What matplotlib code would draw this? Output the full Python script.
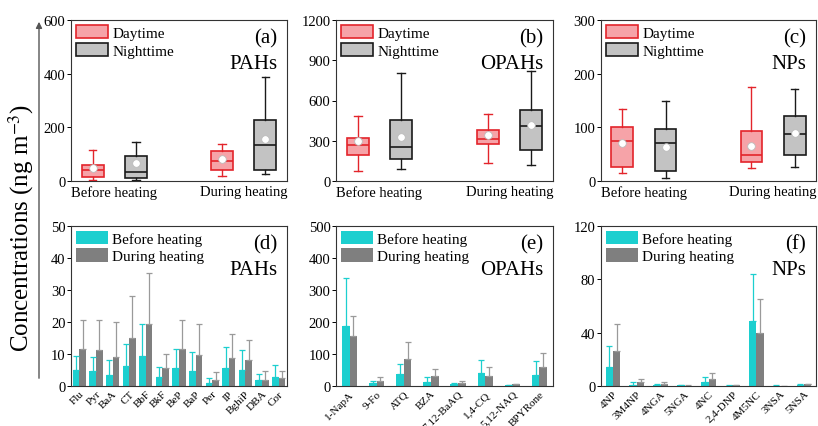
import numpy as np
import matplotlib
matplotlib.use('Agg')
import matplotlib.pyplot as plt
from matplotlib.patches import Patch, FancyArrowPatch

plt.rcParams['font.family'] = ['Liberation Serif', 'DejaVu Serif']
plt.rcParams['mathtext.fontset'] = 'stix'

groups = ['Before heating', 'During heating']

# box stats per group: whislo, q1, med, q3, whishi, mean
pahs_day = [(3, 16, 42, 60, 117, 47), (17, 42, 73, 111, 139, 81)]
pahs_night = [(5, 12, 32, 94, 147, 68), (25, 42, 134, 228, 389, 157)]
opahs_day = [(72, 196, 266, 318, 484, 298), (132, 278, 316, 380, 502, 343)]
opahs_night = [(92, 164, 256, 455, 805, 328), (117, 234, 412, 527, 817, 420)]
nps_day = [(14, 27, 74, 101, 135, 70), (24, 35, 49, 94, 175, 65)]
nps_night = [(5, 19, 71, 97, 150, 63), (26, 48, 88, 122, 171, 89)]

# species means and upper error (sd)
pah_species = ['Flu', 'Pyr', 'BaA', 'CT', 'BbF', 'BkF', 'BeP', 'BaP', 'Per', 'IP', 'BghiP', 'DBA', 'Cor']
pah_before = [5.1, 4.7, 3.5, 6.4, 9.3, 2.9, 5.5, 4.7, 1.0, 5.6, 5.1, 1.8, 2.9]
pah_before_sd = [4.2, 4.3, 4.5, 6.8, 10.0, 2.9, 6.1, 5.9, 1.4, 6.7, 6.1, 2.1, 3.6]
pah_during = [11.7, 11.3, 9.1, 15.0, 19.4, 5.6, 11.5, 9.6, 2.0, 8.8, 8.0, 2.0, 2.4]
pah_during_sd = [8.9, 9.3, 10.8, 13.0, 15.9, 4.5, 9.0, 9.7, 2.5, 7.5, 6.5, 2.7, 2.3]

opah_species = ['1-NapA', '9-Fo', 'ATQ', 'BZA', '7,12-BaAQ', '1,4-CQ', '5,12-NAQ', 'BPYRone']
opah_before = [187, 8, 38, 13, 5, 41, 3, 35]
opah_before_sd = [149, 8, 30, 15, 4, 39, 1, 42]
opah_during = [157, 17, 84, 30, 10, 32, 5, 58]
opah_during_sd = [61, 12, 53, 23, 6, 27, 1, 45]

np_species = ['4NP', '3M4NP', '4NGA', '5NGA', '4NC', '2,4-DNP', '4M5NC', '3NSA', '5NSA']
np_before = [13.9, 1.0, 1.0, 0.5, 2.7, 0.3, 48.5, 0.3, 1.0]
np_before_sd = [16.2, 1.7, 0.5, 0.1, 3.8, 0.1, 35.4, 0.1, 0.2]
np_during = [26.1, 2.7, 1.7, 0.3, 5.5, 0.7, 40.1, 0.2, 1.2]
np_during_sd = [20.2, 2.5, 1.3, 0.1, 4.5, 0.3, 25.1, 0.1, 0.3]

RED_FACE = '#f6a3a8'
RED_EDGE = '#e3242b'
GREY_FACE = '#c3c3c3'
GREY_EDGE = '#1a1a1a'
CYAN = '#1ccfcf'
DGREY = '#7f7f7f'

W, H = 818, 427
fig = plt.figure(figsize=(W / 100, H / 100), dpi=100)

def px_axes(left, top, right, bottom):
    return fig.add_axes([left / W, 1 - bottom / H, (right - left) / W, (bottom - top) / H])

cols = [(71, 287), (336, 553), (601, 816)]

def style(ax):
    for s in ax.spines.values():
        s.set_color('#333333')
        s.set_linewidth(0.8)
    ax.tick_params(axis='y', direction='out', length=3, width=0.7, labelsize=10.5, pad=1)

def make_stats(rows):
    out = []
    for r in rows:
        out.append({'whislo': r[0], 'q1': r[1], 'med': r[2], 'q3': r[3],
                    'whishi': r[4], 'mean': r[5], 'fliers': []})
    return out

def add_tags(ax, tag, name):
    ax.text(0.955, 0.95, tag, transform=ax.transAxes, ha='right', va='top', fontsize=15)
    ax.text(0.955, 0.70, name, transform=ax.transAxes, ha='right', va='baseline', fontsize=15)

def box_panel(ax, day, night, ymax, step, tag, name):
    off = 0.167
    pos = np.arange(1, len(groups) + 1)
    for data, shift, fc, ec in [(day, -off, RED_FACE, RED_EDGE), (night, off, GREY_FACE, GREY_EDGE)]:
        ax.bxp(make_stats(data), positions=pos + shift, widths=0.17, patch_artist=True,
               showmeans=True, showfliers=False, capwidths=0.06,
               boxprops=dict(facecolor=fc, edgecolor=ec, linewidth=1.2),
               whiskerprops=dict(color=ec, linewidth=1.0),
               capprops=dict(color=ec, linewidth=1.0),
               medianprops=dict(color=ec, linewidth=1.2),
               meanprops=dict(marker='o', markerfacecolor='white', markeredgecolor='#bbbbbb',
                              markersize=5.5, markeredgewidth=0.6))
    ax.set_xlim(0.667, 2.333)
    ax.set_ylim(0, ymax)
    ax.set_yticks(np.arange(0, ymax + 1, step))
    ax.set_xticks(pos)
    ax.set_xticklabels(groups, fontsize=10.5)
    ax.tick_params(axis='x', length=0, pad=3)
    style(ax)
    handles = [Patch(facecolor=RED_FACE, edgecolor=RED_EDGE, linewidth=1.2, label='Daytime'),
               Patch(facecolor=GREY_FACE, edgecolor=GREY_EDGE, linewidth=1.2, label='Nighttime')]
    ax.legend(handles=handles, loc='upper left', frameon=False, fontsize=11,
              handlelength=2.1, handleheight=1.0, labelspacing=0.2,
              borderaxespad=0.1, borderpad=0.2, handletextpad=0.3)
    add_tags(ax, tag, name)

def bar_panel(ax, species, before, bsd, during, dsd, ymax, step, width, tag, name):
    x = np.arange(len(species))
    zeros = np.zeros(len(species))
    ax.bar(x - width / 2, before, width, color=CYAN, label='Before heating',
           yerr=[zeros, bsd], error_kw=dict(ecolor=CYAN, elinewidth=0.9, capsize=2, capthick=0.9))
    ax.bar(x + width / 2, during, width, color=DGREY, label='During heating',
           yerr=[zeros, dsd], error_kw=dict(ecolor='#9a9a9a', elinewidth=0.9, capsize=2, capthick=0.9))
    ax.set_xlim(-0.5, len(species) - 0.5)
    ax.set_ylim(0, ymax)
    ax.set_yticks(np.arange(0, ymax + 1, step))
    ax.set_xticks(x)
    ax.set_xticklabels(species, rotation=45, ha='right', rotation_mode='anchor', fontsize=8)
    ax.tick_params(axis='x', length=0, pad=2)
    style(ax)
    ax.legend(loc='upper left', frameon=False, fontsize=11,
              handlelength=2.1, handleheight=1.0, labelspacing=0.15,
              borderaxespad=0.1, borderpad=0.2, handletextpad=0.3)
    add_tags(ax, tag, name)

ax_a = px_axes(cols[0][0], 21, cols[0][1], 182)
box_panel(ax_a, pahs_day, pahs_night, 600, 200, '(a)', 'PAHs')
ax_b = px_axes(cols[1][0], 21, cols[1][1], 182)
box_panel(ax_b, opahs_day, opahs_night, 1200, 300, '(b)', 'OPAHs')
ax_c = px_axes(cols[2][0], 21, cols[2][1], 182)
box_panel(ax_c, nps_day, nps_night, 300, 100, '(c)', 'NPs')

ax_d = px_axes(cols[0][0], 227, cols[0][1], 387)
bar_panel(ax_d, pah_species, pah_before, pah_before_sd, pah_during, pah_during_sd, 50, 10, 0.4, '(d)', 'PAHs')
ax_e = px_axes(cols[1][0], 227, cols[1][1], 387)
bar_panel(ax_e, opah_species, opah_before, opah_before_sd, opah_during, opah_during_sd, 500, 100, 0.28, '(e)', 'OPAHs')
ax_f = px_axes(cols[2][0], 227, cols[2][1], 387)
bar_panel(ax_f, np_species, np_before, np_before_sd, np_during, np_during_sd, 120, 40, 0.31, '(f)', 'NPs')

arrow = FancyArrowPatch((39 / W, 1 - 382 / H), (39 / W, 1 - 20 / H), transform=fig.transFigure,
                        arrowstyle='-|>', mutation_scale=9, color='#555555', linewidth=1.0)
fig.add_artist(arrow)
fig.text(21 / W, 1 - 228 / H, 'Concentrations (ng m$^{-3}$)', rotation=90,
         ha='center', va='center', fontsize=18)

fig.savefig('out.png', dpi=100)
